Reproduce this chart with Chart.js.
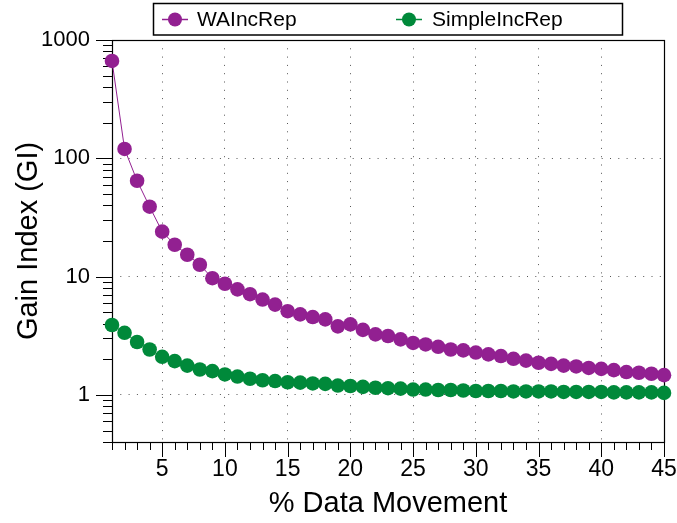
<!DOCTYPE html>
<html>
<head>
<meta charset="utf-8">
<script src="https://cdn.jsdelivr.net/npm/chart.js@4/dist/chart.umd.min.js"></script>
<style>
  body { margin: 0; background: #fff; }
  #wrap { width: 677px; height: 523px; }
</style>
</head>
<body>
<div id="wrap"><canvas id="chart1" width="677" height="523"></canvas></div>
<script>

// data
var movement = [1, 2, 3, 4, 5, 6, 7, 8, 9, 10, 11, 12, 13, 14, 15, 16, 17, 18, 19, 20, 21, 22, 23,
  24, 25, 26, 27, 28, 29, 30, 31, 32, 33, 34, 35, 36, 37, 38, 39, 40, 41, 42, 43, 44, 45];

var waIncRep = [665, 120, 64.6, 39, 24, 18.6, 15.3, 12.6, 9.7, 8.7, 7.8, 7.1, 6.4, 5.8, 5.1, 4.8,
  4.55, 4.35, 3.8, 3.95, 3.55, 3.25, 3.15, 2.95, 2.75, 2.67, 2.55, 2.42, 2.38, 2.28, 2.2, 2.13,
  2.02, 1.95, 1.87, 1.83, 1.77, 1.74, 1.69, 1.66, 1.62, 1.56, 1.54, 1.51, 1.47];

var simpleIncRep = [3.9, 3.35, 2.8, 2.42, 2.1, 1.93, 1.77, 1.64, 1.59, 1.49, 1.43, 1.37, 1.33, 1.31,
  1.28, 1.27, 1.25, 1.24, 1.2, 1.19, 1.17, 1.15, 1.14, 1.13, 1.11, 1.11, 1.1, 1.1, 1.09, 1.08,
  1.08, 1.08, 1.07, 1.07, 1.07, 1.07, 1.06, 1.06, 1.06, 1.06, 1.05, 1.05, 1.05, 1.05, 1.04];

var seriesNames = ['WAIncRep', 'SimpleIncRep'];
var xTicks = [5, 10, 15, 20, 25, 30, 35, 40, 45];
var yTicks = [1, 10, 100, 1000];

var purple = 'rgb(146, 32, 145)';
var green = 'rgb(0, 137, 58)';
var fontFam = '"Liberation Sans", Arial, Helvetica, sans-serif';


function toPoints(values) {
  var pts = new Array;
  for (var i = 0; i < movement.length; i++) {
    pts.push({ x: movement[i], y: values[i] });
  }
  return pts;
}


// box, tick marks and legend drawn by hand
var frame = {
  id: 'frame',
  beforeDatasetsDraw: function(chart) {
    var ctx = chart.ctx;
    var a = chart.chartArea;
    var xs = chart.scales.x;
    var ys = chart.scales.y;

    ctx.save();
    ctx.strokeStyle = '#000';
    ctx.lineWidth = 1;

    // x tick marks
    for (var i = 1; i <= 45; i++) {
      var px = Math.round(xs.getPixelForValue(i)) + 0.5;
      var len = (i % 5 == 0) ? 15 : 8;
      ctx.beginPath();
      ctx.moveTo(px, a.bottom);
      ctx.lineTo(px, a.bottom + len);
      ctx.stroke();
    }

    // y tick marks (log decades)
    for (var k = -1; k <= 3; k++) {
      for (var m = 1; m <= 9; m++) {
        var v = m * Math.pow(10, k);
        if (v < ys.min - 1e-9 || v > ys.max + 1e-9) continue;
        var py = Math.round(ys.getPixelForValue(v)) + 0.5;
        var l = (m == 1) ? 16 : 9;
        ctx.beginPath();
        ctx.moveTo(a.left - l, py);
        ctx.lineTo(a.left, py);
        ctx.stroke();
      }
    }

    // box
    ctx.lineWidth = 1.2;
    ctx.strokeRect(Math.round(a.left) + 0.5, Math.round(a.top) + 0.5,
      Math.round(a.right - a.left), Math.round(a.bottom - a.top));
    ctx.restore();
  },
  afterDraw: function(chart) {
    var ctx = chart.ctx;
    ctx.save();
    ctx.strokeStyle = '#000';
    ctx.lineWidth = 1.5;
    ctx.strokeRect(153.5, 3.5, 469, 31.5);

    var items = [
      { x: 175, tx: 197, ds: chart.data.datasets[0] },
      { x: 409, tx: 432, ds: chart.data.datasets[1] }
    ];
    for (var i = 0; i < items.length; i++) {
      var it = items[i];
      ctx.strokeStyle = it.ds.borderColor;
      ctx.lineWidth = 1.5;
      ctx.beginPath();
      ctx.moveTo(it.x - 13, 19.5);
      ctx.lineTo(it.x + 13, 19.5);
      ctx.stroke();
      ctx.fillStyle = it.ds.pointBackgroundColor;
      ctx.beginPath();
      ctx.arc(it.x, 19.5, 7, 0, Math.PI * 2);
      ctx.fill();
      ctx.fillStyle = '#000';
      ctx.font = '21px ' + fontFam;
      ctx.textBaseline = 'middle';
      ctx.textAlign = 'left';
      ctx.fillText(it.ds.label, it.tx, 20);
    }
    ctx.restore();
  }
};


const ctx1 = document.getElementById('chart1').getContext('2d');
const chart1 = new Chart(ctx1, {
  type: 'line',
  data: {
    datasets: [
      {
        label: seriesNames[0],
        data: toPoints(waIncRep),
        borderColor: purple,
        backgroundColor: purple,
        pointBackgroundColor: purple,
        pointBorderColor: purple,
        pointBorderWidth: 0,
        pointRadius: 7.3,
        borderWidth: 1,
        clip: false
      },
      {
        label: seriesNames[1],
        data: toPoints(simpleIncRep),
        borderColor: green,
        backgroundColor: green,
        pointBackgroundColor: green,
        pointBorderColor: green,
        pointBorderWidth: 0,
        pointRadius: 7.3,
        borderWidth: 1,
        clip: false
      }
    ]
  },
  plugins: [frame],
  options: {
    responsive: false,
    animation: false,
    devicePixelRatio: 1,
    layout: { padding: { top: 40, right: 13, left: 0, bottom: 0 } },
    plugins: {
      legend: { display: false },
      tooltip: { enabled: false }
    },
    scales: {
      x: {
        type: 'linear',
        min: 1,
        max: 45,
        afterBuildTicks: function(scale) {
          scale.ticks = xTicks.map(function(v) { return { value: v }; });
        },
        afterFit: function(scale) {
          scale.height = 81;
          scale.paddingLeft = 0;
          scale.paddingRight = 0;
        },
        grid: { color: '#555', lineWidth: 1, drawTicks: false },
        border: { display: false, dash: [1, 7.3] },
        ticks: {
          color: '#000',
          padding: 14,
          maxRotation: 0,
          autoSkip: false,
          font: { family: fontFam, size: 23 },
          callback: function(v) { return v + ''; }
        },
        title: {
          display: true,
          text: '% Data Movement',
          color: '#000',
          font: { family: fontFam, size: 29 },
          padding: { top: 0, bottom: 2 }
        }
      },
      y: {
        type: 'logarithmic',
        min: 0.4,
        max: 1000,
        afterBuildTicks: function(scale) {
          scale.ticks = yTicks.map(function(v) { return { value: v }; });
        },
        afterFit: function(scale) {
          scale.width = 112;
          scale.paddingTop = 0;
          scale.paddingBottom = 0;
        },
        grid: { color: '#555', lineWidth: 1, drawTicks: false },
        border: { display: false, dash: [1, 7.3] },
        ticks: {
          color: '#000',
          padding: 22,
          autoSkip: false,
          font: { family: fontFam, size: 22 },
          callback: function(v) { return v + ''; }
        },
        title: {
          display: true,
          text: 'Gain Index (GI)',
          color: '#000',
          font: { family: fontFam, size: 29 },
          padding: { top: 12, bottom: 0 }
        }
      }
    }
  }
});

</script>
</body>
</html>
